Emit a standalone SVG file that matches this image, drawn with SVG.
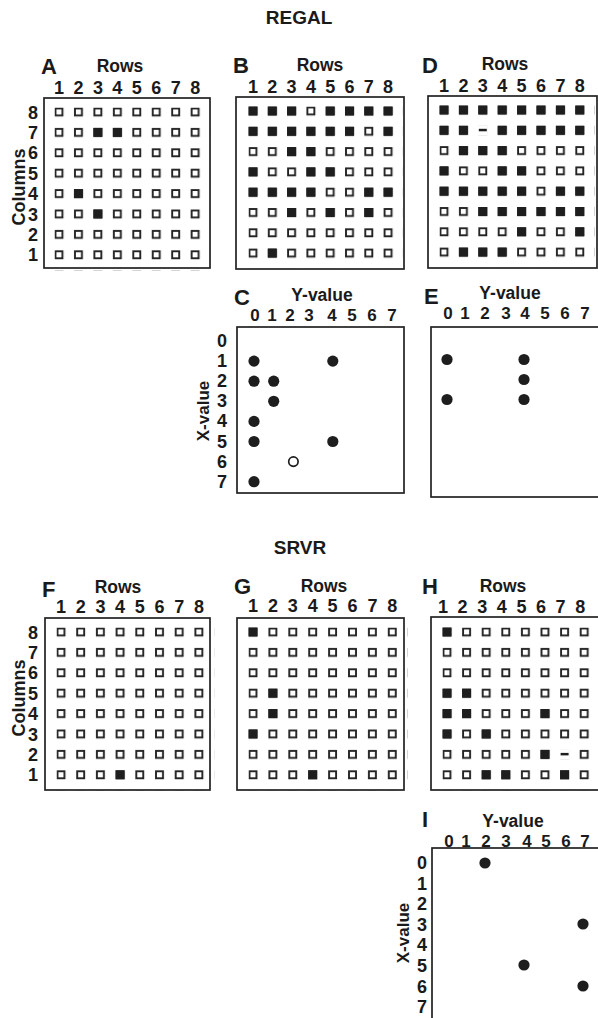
<svg xmlns="http://www.w3.org/2000/svg" xmlns:xlink="http://www.w3.org/1999/xlink" width="598" height="1018" viewBox="0 0 598 1018">
<style>
.t{font-family:"Liberation Sans",Arial,Helvetica,sans-serif;font-weight:bold;fill:#1a1a1a}
.n{font-size:18px;text-anchor:middle}
.ns{font-size:17px;text-anchor:middle}
.lbl{font-size:22px}
.ax{font-size:17.5px;text-anchor:middle}
.ttl{font-size:19px;text-anchor:middle}
.fr{fill:none;stroke:#222;stroke-width:1.7}
.dot{fill:#1e1e1e}
.odot{fill:none;stroke:#1e1e1e;stroke-width:1.7}
</style>
<defs>
<rect id="fs" width="9" height="9" fill="#1e1e1e"/>
<pattern id="pA" patternUnits="userSpaceOnUse" width="19.45" height="20.4"><rect x="1" y="1" width="7" height="7" fill="none" stroke="#222" stroke-width="1.9"/></pattern>
<pattern id="pB" patternUnits="userSpaceOnUse" width="19.3" height="20.3"><rect x="1" y="1" width="7" height="7" fill="none" stroke="#222" stroke-width="1.9"/></pattern>
<pattern id="pD" patternUnits="userSpaceOnUse" width="19.4" height="20.3"><rect x="1" y="1" width="7" height="7" fill="none" stroke="#222" stroke-width="1.9"/></pattern>
<pattern id="pF" patternUnits="userSpaceOnUse" width="19.7" height="20.4"><rect x="1" y="1" width="7" height="7" fill="none" stroke="#222" stroke-width="1.9"/></pattern>
<pattern id="pG" patternUnits="userSpaceOnUse" width="19.9" height="20.4"><rect x="1" y="1" width="7" height="7" fill="none" stroke="#222" stroke-width="1.9"/></pattern>
<pattern id="pH" patternUnits="userSpaceOnUse" width="19.6" height="20.4"><rect x="1" y="1" width="7" height="7" fill="none" stroke="#222" stroke-width="1.9"/></pattern>
</defs>
<rect width="598" height="1018" fill="#fff"/>

<g id="title-regal"><text class="t ttl" x="299" y="24">REGAL</text></g>
<g id="title-srvr"><text class="t ttl" x="300" y="554">SRVR</text></g>

<!-- Panel A -->
<g id="panel-A">
<text class="t lbl" x="41" y="74">A</text>
<text class="t ax" x="120" y="72">Rows</text>
<text class="t n" y="94"><tspan x="59">1</tspan><tspan x="78.45">2</tspan><tspan x="97.9">3</tspan><tspan x="117.35">4</tspan><tspan x="136.8">5</tspan><tspan x="156.25">6</tspan><tspan x="175.7">7</tspan><tspan x="195.15">8</tspan></text>
<text class="t ax" style="font-size:18px" transform="translate(25,187) rotate(-90)">Columns</text>
<text class="t n"><tspan x="33" y="118.5">8</tspan><tspan x="33" y="138.9">7</tspan><tspan x="33" y="159.3">6</tspan><tspan x="33" y="179.7">5</tspan><tspan x="33" y="200.1">4</tspan><tspan x="33" y="220.5">3</tspan><tspan x="33" y="240.9">2</tspan><tspan x="33" y="261.3">1</tspan></text>
<rect class="fr" x="44" y="98" width="166" height="170"/>
<g transform="translate(54.5,107.5)">
<rect width="155.6" height="163.2" fill="url(#pA)"/>
<use xlink:href="#fs" x="38.9" y="20.4"/><use xlink:href="#fs" x="58.35" y="20.4"/>
<use xlink:href="#fs" x="19.45" y="81.6"/>
<use xlink:href="#fs" x="38.9" y="102"/>
</g>
</g>

<!-- Panel B -->
<g id="panel-B">
<text class="t lbl" x="233" y="73">B</text>
<text class="t ax" x="320" y="71">Rows</text>
<text class="t n" y="93"><tspan x="253">1</tspan><tspan x="272.3">2</tspan><tspan x="291.6">3</tspan><tspan x="310.9">4</tspan><tspan x="330.2">5</tspan><tspan x="349.5">6</tspan><tspan x="368.8">7</tspan><tspan x="388.1">8</tspan></text>
<rect class="fr" x="236" y="97" width="168" height="172"/>
<g transform="translate(248.5,106.5)">
<rect width="154.4" height="162.4" fill="url(#pB)"/>
<use xlink:href="#fs" x="0" y="0"/><use xlink:href="#fs" x="19.3" y="0"/><use xlink:href="#fs" x="38.6" y="0"/><use xlink:href="#fs" x="77.2" y="0"/><use xlink:href="#fs" x="96.5" y="0"/><use xlink:href="#fs" x="115.8" y="0"/><use xlink:href="#fs" x="135.1" y="0"/>
<use xlink:href="#fs" x="0" y="20.3"/><use xlink:href="#fs" x="19.3" y="20.3"/><use xlink:href="#fs" x="38.6" y="20.3"/><use xlink:href="#fs" x="57.9" y="20.3"/><use xlink:href="#fs" x="77.2" y="20.3"/><use xlink:href="#fs" x="96.5" y="20.3"/><use xlink:href="#fs" x="135.1" y="20.3"/>
<use xlink:href="#fs" x="38.6" y="40.6"/><use xlink:href="#fs" x="57.9" y="40.6"/>
<use xlink:href="#fs" x="0" y="60.9"/><use xlink:href="#fs" x="57.9" y="60.9"/><use xlink:href="#fs" x="77.2" y="60.9"/>
<use xlink:href="#fs" x="0" y="81.2"/><use xlink:href="#fs" x="19.3" y="81.2"/><use xlink:href="#fs" x="38.6" y="81.2"/><use xlink:href="#fs" x="57.9" y="81.2"/><use xlink:href="#fs" x="115.8" y="81.2"/><use xlink:href="#fs" x="135.1" y="81.2"/>
<use xlink:href="#fs" x="38.6" y="101.5"/><use xlink:href="#fs" x="77.2" y="101.5"/><use xlink:href="#fs" x="115.8" y="101.5"/>
<use xlink:href="#fs" x="19.3" y="142.1"/>
</g>
</g>

<!-- Panel D -->
<g id="panel-D">
<text class="t lbl" x="422" y="73">D</text>
<text class="t ax" x="505" y="70">Rows</text>
<text class="t n" y="92"><tspan x="444">1</tspan><tspan x="463.4">2</tspan><tspan x="482.8">3</tspan><tspan x="502.2">4</tspan><tspan x="521.6">5</tspan><tspan x="541">6</tspan><tspan x="560.4">7</tspan><tspan x="579.8">8</tspan></text>
<rect class="fr" x="428" y="96" width="169" height="172"/>
<g transform="translate(439.5,105.5)">
<rect width="155.2" height="162.4" fill="url(#pD)"/>
<use xlink:href="#fs" x="0" y="0"/><use xlink:href="#fs" x="19.4" y="0"/><use xlink:href="#fs" x="38.8" y="0"/><use xlink:href="#fs" x="58.2" y="0"/><use xlink:href="#fs" x="77.6" y="0"/><use xlink:href="#fs" x="97" y="0"/><use xlink:href="#fs" x="116.4" y="0"/><use xlink:href="#fs" x="135.8" y="0"/>
<use xlink:href="#fs" x="0" y="20.3"/><use xlink:href="#fs" x="19.4" y="20.3"/><use xlink:href="#fs" x="58.2" y="20.3"/><use xlink:href="#fs" x="77.6" y="20.3"/><use xlink:href="#fs" x="97" y="20.3"/><use xlink:href="#fs" x="116.4" y="20.3"/><use xlink:href="#fs" x="135.8" y="20.3"/>
<rect x="38.3" y="19.8" width="10" height="10" fill="#fff"/><rect x="39.3" y="23.3" width="8" height="2.5" fill="#1e1e1e"/>
<use xlink:href="#fs" x="19.4" y="40.6"/><use xlink:href="#fs" x="38.8" y="40.6"/><use xlink:href="#fs" x="58.2" y="40.6"/>
<use xlink:href="#fs" x="0" y="60.9"/><use xlink:href="#fs" x="58.2" y="60.9"/><use xlink:href="#fs" x="77.6" y="60.9"/>
<use xlink:href="#fs" x="0" y="81.2"/><use xlink:href="#fs" x="19.4" y="81.2"/><use xlink:href="#fs" x="38.8" y="81.2"/><use xlink:href="#fs" x="58.2" y="81.2"/><use xlink:href="#fs" x="77.6" y="81.2"/><use xlink:href="#fs" x="116.4" y="81.2"/><use xlink:href="#fs" x="135.8" y="81.2"/>
<use xlink:href="#fs" x="38.8" y="101.5"/><use xlink:href="#fs" x="58.2" y="101.5"/><use xlink:href="#fs" x="77.6" y="101.5"/><use xlink:href="#fs" x="97" y="101.5"/><use xlink:href="#fs" x="116.4" y="101.5"/><use xlink:href="#fs" x="135.8" y="101.5"/>
<use xlink:href="#fs" x="77.6" y="121.8"/><use xlink:href="#fs" x="135.8" y="121.8"/>
<use xlink:href="#fs" x="19.4" y="142.1"/><use xlink:href="#fs" x="38.8" y="142.1"/><use xlink:href="#fs" x="58.2" y="142.1"/>
</g>
</g>

<!-- Panel C -->
<g id="panel-C">
<text class="t lbl" x="234" y="305">C</text>
<text class="t ax" x="322" y="301">Y-value</text>
<text class="t ns" y="321"><tspan x="255">0</tspan><tspan x="272">1</tspan><tspan x="290">2</tspan><tspan x="309">3</tspan><tspan x="332">4</tspan><tspan x="352">5</tspan><tspan x="372">6</tspan><tspan x="392">7</tspan></text>
<text class="t ax" style="font-size:17px" transform="translate(209,411) rotate(-90)">X-value</text>
<text class="t n"><tspan x="222" y="347">0</tspan><tspan x="222" y="367">1</tspan><tspan x="222" y="387">2</tspan><tspan x="222" y="407">3</tspan><tspan x="222" y="427">4</tspan><tspan x="222" y="448">5</tspan><tspan x="222" y="468">6</tspan><tspan x="222" y="488">7</tspan></text>
<rect class="fr" x="237" y="327" width="167" height="166"/>
<circle class="dot" cx="254" cy="361.1" r="5.6"/>
<circle class="dot" cx="332.8" cy="361.1" r="5.6"/>
<circle class="dot" cx="254" cy="381.2" r="5.6"/>
<circle class="dot" cx="273.7" cy="381.2" r="5.6"/>
<circle class="dot" cx="273.7" cy="401.3" r="5.6"/>
<circle class="dot" cx="254" cy="421.4" r="5.6"/>
<circle class="dot" cx="254" cy="441.5" r="5.6"/>
<circle class="dot" cx="332.8" cy="441.5" r="5.6"/>
<circle class="odot" cx="293.4" cy="461.6" r="4.7"/>
<circle class="dot" cx="254" cy="481.7" r="5.6"/>
</g>

<!-- Panel E -->
<g id="panel-E">
<text class="t lbl" x="424" y="304">E</text>
<text class="t ax" x="510" y="299">Y-value</text>
<text class="t ns" y="319"><tspan x="448">0</tspan><tspan x="465">1</tspan><tspan x="485">2</tspan><tspan x="506">3</tspan><tspan x="525">4</tspan><tspan x="545">5</tspan><tspan x="565">6</tspan><tspan x="585">7</tspan></text>
<rect class="fr" x="431" y="327" width="168" height="170"/>
<circle class="dot" cx="447" cy="359.5" r="5.6"/>
<circle class="dot" cx="524" cy="359.5" r="5.6"/>
<circle class="dot" cx="524" cy="379.5" r="5.6"/>
<circle class="dot" cx="447" cy="399.5" r="5.6"/>
<circle class="dot" cx="524" cy="399.5" r="5.6"/>
</g>

<!-- Panel F -->
<g id="panel-F">
<text class="t lbl" x="42" y="597">F</text>
<text class="t ax" x="118" y="593">Rows</text>
<text class="t n" y="613"><tspan x="61">1</tspan><tspan x="80.7">2</tspan><tspan x="100.4">3</tspan><tspan x="120.1">4</tspan><tspan x="139.8">5</tspan><tspan x="159.5">6</tspan><tspan x="179.2">7</tspan><tspan x="198.9">8</tspan></text>
<text class="t ax" style="font-size:18px" transform="translate(25,698) rotate(-90)">Columns</text>
<text class="t n"><tspan x="33" y="638.5">8</tspan><tspan x="33" y="658.9">7</tspan><tspan x="33" y="679.3">6</tspan><tspan x="33" y="699.7">5</tspan><tspan x="33" y="720.1">4</tspan><tspan x="33" y="740.5">3</tspan><tspan x="33" y="760.9">2</tspan><tspan x="33" y="781.3">1</tspan></text>
<rect class="fr" x="45" y="618" width="165" height="172"/>
<g transform="translate(56.5,627.5)">
<rect width="157.6" height="163.2" fill="url(#pF)"/>
<use xlink:href="#fs" x="59.1" y="142.8"/>
</g>
</g>

<!-- Panel G -->
<g id="panel-G">
<text class="t lbl" x="234" y="594">G</text>
<text class="t ax" x="324" y="592">Rows</text>
<text class="t n" y="612"><tspan x="253">1</tspan><tspan x="272.9">2</tspan><tspan x="292.8">3</tspan><tspan x="312.7">4</tspan><tspan x="332.6">5</tspan><tspan x="352.5">6</tspan><tspan x="372.4">7</tspan><tspan x="392.3">8</tspan></text>
<rect class="fr" x="237" y="618" width="167" height="172"/>
<g transform="translate(248.5,627.5)">
<rect width="159.2" height="163.2" fill="url(#pG)"/>
<use xlink:href="#fs" x="0" y="0"/>
<use xlink:href="#fs" x="19.9" y="61.2"/>
<use xlink:href="#fs" x="19.9" y="81.6"/>
<use xlink:href="#fs" x="0" y="102"/>
<use xlink:href="#fs" x="59.7" y="142.8"/>
</g>
</g>

<!-- Panel H -->
<g id="panel-H">
<text class="t lbl" x="422" y="594">H</text>
<text class="t ax" x="503" y="592">Rows</text>
<text class="t n" y="613"><tspan x="443">1</tspan><tspan x="462.6">2</tspan><tspan x="482.2">3</tspan><tspan x="501.8">4</tspan><tspan x="521.4">5</tspan><tspan x="541">6</tspan><tspan x="560.6">7</tspan><tspan x="580.2">8</tspan></text>
<rect class="fr" x="431" y="617" width="168" height="173"/>
<g transform="translate(442.5,627.5)">
<rect width="156.8" height="163.2" fill="url(#pH)"/>
<use xlink:href="#fs" x="0" y="0"/>
<use xlink:href="#fs" x="0" y="61.2"/><use xlink:href="#fs" x="19.6" y="61.2"/>
<use xlink:href="#fs" x="0" y="81.6"/><use xlink:href="#fs" x="19.6" y="81.6"/><use xlink:href="#fs" x="98" y="81.6"/>
<use xlink:href="#fs" x="0" y="102"/><use xlink:href="#fs" x="39.2" y="102"/>
<use xlink:href="#fs" x="98" y="122.4"/>
<rect x="117.1" y="121.9" width="10" height="10" fill="#fff"/><rect x="118.1" y="125.4" width="8" height="2.5" fill="#1e1e1e"/>
<use xlink:href="#fs" x="39.2" y="142.8"/><use xlink:href="#fs" x="58.8" y="142.8"/><use xlink:href="#fs" x="117.6" y="142.8"/>
</g>
</g>

<!-- Panel I -->
<g id="panel-I">
<text class="t lbl" x="422" y="827">I</text>
<text class="t ax" x="513" y="827">Y-value</text>
<text class="t ns" y="847"><tspan x="449">0</tspan><tspan x="466">1</tspan><tspan x="486">2</tspan><tspan x="506">3</tspan><tspan x="527">4</tspan><tspan x="546">5</tspan><tspan x="566">6</tspan><tspan x="585">7</tspan></text>
<text class="t ax" style="font-size:17px" transform="translate(409,933) rotate(-90)">X-value</text>
<text class="t n"><tspan x="422" y="869">0</tspan><tspan x="422" y="890">1</tspan><tspan x="422" y="910">2</tspan><tspan x="422" y="931">3</tspan><tspan x="422" y="951">4</tspan><tspan x="422" y="972">5</tspan><tspan x="422" y="993">6</tspan><tspan x="422" y="1013">7</tspan></text>
<rect class="fr" x="432" y="848" width="168" height="180"/>
<circle class="dot" cx="485" cy="863" r="5.6"/>
<circle class="dot" cx="583" cy="924" r="5.6"/>
<circle class="dot" cx="524" cy="965" r="5.6"/>
<circle class="dot" cx="583" cy="986" r="5.6"/>
</g>
</svg>
